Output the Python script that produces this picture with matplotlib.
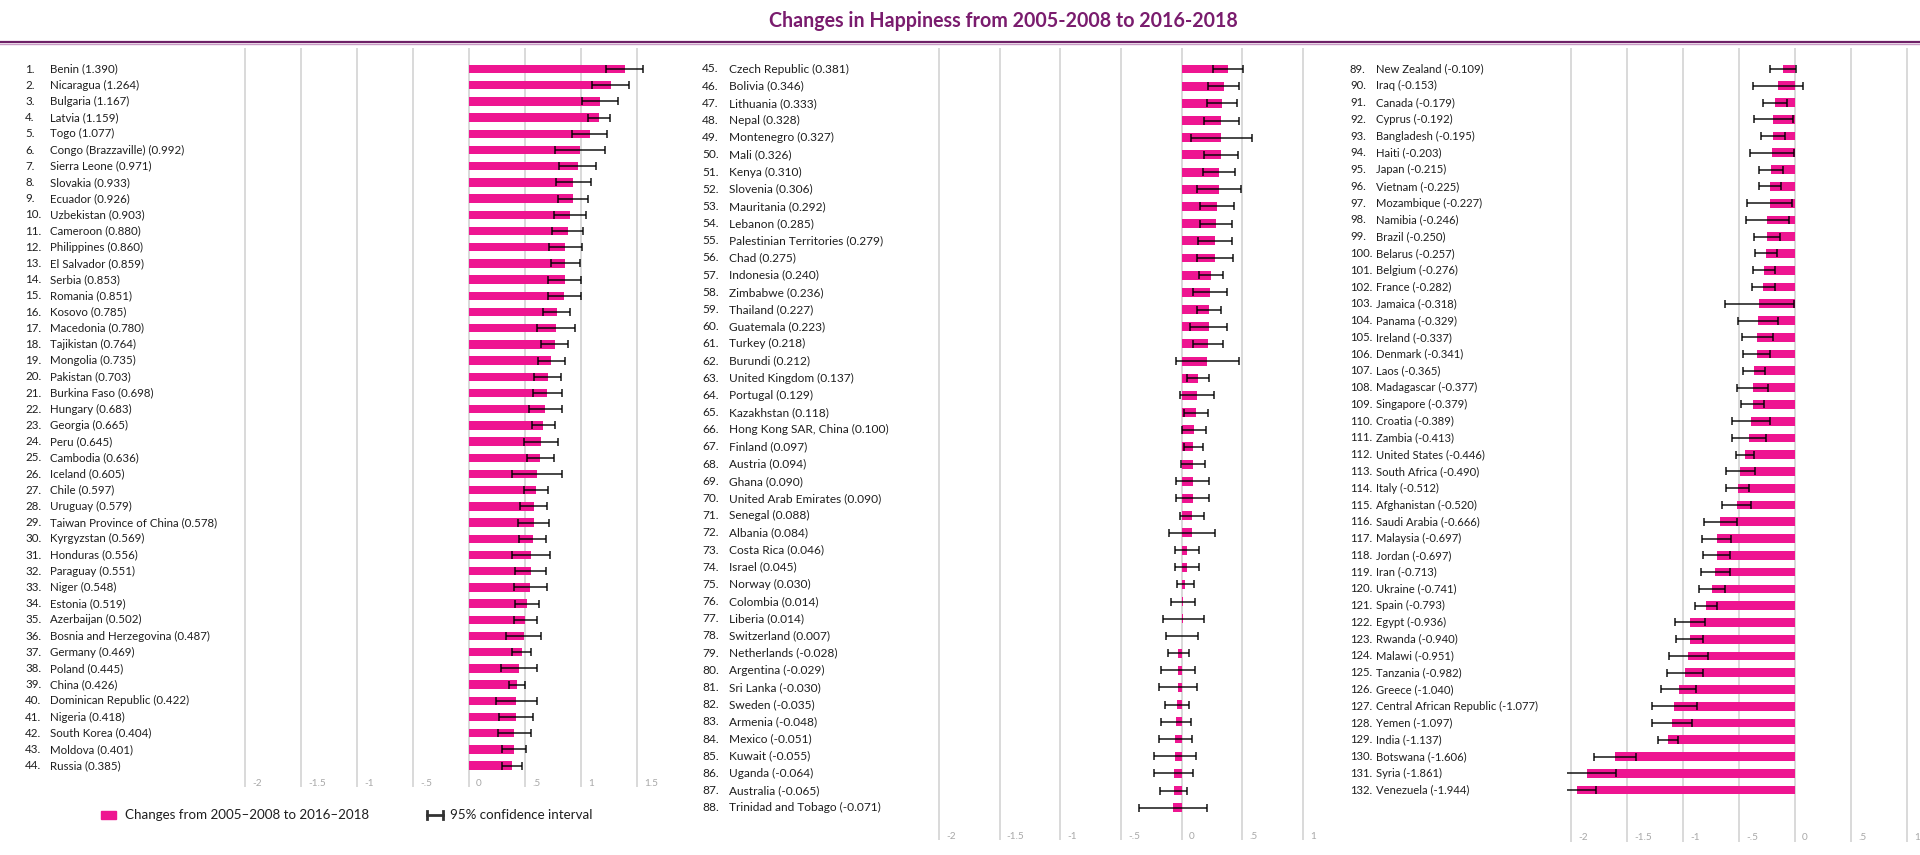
import matplotlib.pyplot as plt
from matplotlib.transforms import blended_transform_factory
from matplotlib.patches import Rectangle
from matplotlib.lines import Line2D

plt.rcParams['font.family'] = ['Lato', 'DejaVu Sans']

title = "Changes in Happiness from 2005-2008 to 2016-2018"

countries = [
    "Benin", "Nicaragua", "Bulgaria", "Latvia", "Togo", "Congo (Brazzaville)",
    "Sierra Leone", "Slovakia", "Ecuador", "Uzbekistan", "Cameroon", "Philippines",
    "El Salvador", "Serbia", "Romania", "Kosovo", "Macedonia", "Tajikistan",
    "Mongolia", "Pakistan", "Burkina Faso", "Hungary", "Georgia", "Peru",
    "Cambodia", "Iceland", "Chile", "Uruguay", "Taiwan Province of China",
    "Kyrgyzstan", "Honduras", "Paraguay", "Niger", "Estonia", "Azerbaijan",
    "Bosnia and Herzegovina", "Germany", "Poland", "China", "Dominican Republic",
    "Nigeria", "South Korea", "Moldova", "Russia",
    "Czech Republic", "Bolivia", "Lithuania", "Nepal", "Montenegro", "Mali",
    "Kenya", "Slovenia", "Mauritania", "Lebanon", "Palestinian Territories",
    "Chad", "Indonesia", "Zimbabwe", "Thailand", "Guatemala", "Turkey", "Burundi",
    "United Kingdom", "Portugal", "Kazakhstan", "Hong Kong SAR, China", "Finland",
    "Austria", "Ghana", "United Arab Emirates", "Senegal", "Albania", "Costa Rica",
    "Israel", "Norway", "Colombia", "Liberia", "Switzerland", "Netherlands",
    "Argentina", "Sri Lanka", "Sweden", "Armenia", "Mexico", "Kuwait", "Uganda",
    "Australia", "Trinidad and Tobago",
    "New Zealand", "Iraq", "Canada", "Cyprus", "Bangladesh", "Haiti", "Japan",
    "Vietnam", "Mozambique", "Namibia", "Brazil", "Belarus", "Belgium", "France",
    "Jamaica", "Panama", "Ireland", "Denmark", "Laos", "Madagascar", "Singapore",
    "Croatia", "Zambia", "United States", "South Africa", "Italy", "Afghanistan",
    "Saudi Arabia", "Malaysia", "Jordan", "Iran", "Ukraine", "Spain", "Egypt",
    "Rwanda", "Malawi", "Tanzania", "Greece", "Central African Republic", "Yemen",
    "India", "Botswana", "Syria", "Venezuela",
]

changes = [
    1.390, 1.264, 1.167, 1.159, 1.077, 0.992, 0.971, 0.933, 0.926, 0.903,
    0.880, 0.860, 0.859, 0.853, 0.851, 0.785, 0.780, 0.764, 0.735, 0.703,
    0.698, 0.683, 0.665, 0.645, 0.636, 0.605, 0.597, 0.579, 0.578, 0.569,
    0.556, 0.551, 0.548, 0.519, 0.502, 0.487, 0.469, 0.445, 0.426, 0.422,
    0.418, 0.404, 0.401, 0.385,
    0.381, 0.346, 0.333, 0.328, 0.327, 0.326, 0.310, 0.306, 0.292, 0.285,
    0.279, 0.275, 0.240, 0.236, 0.227, 0.223, 0.218, 0.212, 0.137, 0.129,
    0.118, 0.100, 0.097, 0.094, 0.090, 0.090, 0.088, 0.084, 0.046, 0.045,
    0.030, 0.014, 0.014, 0.007, -0.028, -0.029, -0.030, -0.035, -0.048, -0.051,
    -0.055, -0.064, -0.065, -0.071,
    -0.109, -0.153, -0.179, -0.192, -0.195, -0.203, -0.215, -0.225, -0.227, -0.246,
    -0.250, -0.257, -0.276, -0.282, -0.318, -0.329, -0.337, -0.341, -0.365, -0.377,
    -0.379, -0.389, -0.413, -0.446, -0.490, -0.512, -0.520, -0.666, -0.697, -0.697,
    -0.713, -0.741, -0.793, -0.936, -0.940, -0.951, -0.982, -1.040, -1.077, -1.097,
    -1.137, -1.606, -1.861, -1.944,
]

# half width of the 95% confidence interval
ci_half = [
    0.166, 0.168, 0.160, 0.100, 0.155, 0.220, 0.163, 0.155, 0.134, 0.143,
    0.136, 0.145, 0.130, 0.150, 0.150, 0.120, 0.170, 0.120, 0.120, 0.120,
    0.130, 0.150, 0.100, 0.150, 0.120, 0.225, 0.110, 0.120, 0.140, 0.120,
    0.170, 0.140, 0.150, 0.104, 0.104, 0.157, 0.087, 0.163, 0.072, 0.184,
    0.151, 0.149, 0.109, 0.090,
    0.122, 0.129, 0.124, 0.144, 0.250, 0.140, 0.134, 0.180, 0.142, 0.132,
    0.140, 0.150, 0.100, 0.140, 0.100, 0.150, 0.120, 0.260, 0.090, 0.140,
    0.100, 0.100, 0.080, 0.100, 0.140, 0.140, 0.100, 0.190, 0.100, 0.100,
    0.070, 0.100, 0.170, 0.132, 0.087, 0.137, 0.153, 0.100, 0.125, 0.135,
    0.173, 0.160, 0.112, 0.280,
    0.115, 0.220, 0.107, 0.176, 0.110, 0.197, 0.108, 0.100, 0.200, 0.190,
    0.120, 0.100, 0.100, 0.100, 0.310, 0.180, 0.140, 0.120, 0.100, 0.140,
    0.100, 0.170, 0.150, 0.080, 0.130, 0.100, 0.130, 0.150, 0.130, 0.120,
    0.130, 0.120, 0.100, 0.135, 0.120, 0.170, 0.160, 0.157, 0.200, 0.176,
    0.089, 0.185, 0.267, 0.168,
]

panel_sizes = [44, 44, 44]
ticks_1 = [-2, -1.5, -1, -0.5, 0, 0.5, 1, 1.5]
tick_labels_1 = ["-2", "-1.5", "-1", "-.5", "0", ".5", "1", "1.5"]
ticks_23 = [-2, -1.5, -1, -0.5, 0, 0.5, 1]
tick_labels_23 = ["-2", "-1.5", "-1", "-.5", "0", ".5", "1"]

legend_bar = "Changes from 2005\u20132008 to 2016\u20132018"
legend_ci = "95% confidence interval"

PINK = "#EE1591"
PURPLE = "#7A1C6E"
GRID = "#d9d9d9"
TICKC = "#a8a8a8"
TEXTC = "#1e1e1e"

W, H = 1920, 855
fig = plt.figure(figsize=(W / 100, H / 100), dpi=100)
fig.patch.set_facecolor("white")

# layout of the three panels, in pixels
panels = [
    dict(x_m2=245, ppu=112.0, row0=69, dy=16.2, top=48, bottom=787, xlim=(-2.04, 1.6),
         num_x=25, name_x=50, fs=8.25, tick_y=783, ticks=ticks_1, tlabels=tick_labels_1),
    dict(x_m2=939, ppu=121.3, row0=69, dy=17.18, top=48, bottom=840, xlim=(-2.04, 1.04),
         num_x=702, name_x=729, fs=8.6, tick_y=836, ticks=ticks_23, tlabels=tick_labels_23),
    dict(x_m2=1571, ppu=112.0, row0=69, dy=16.77, top=48, bottom=842, xlim=(-2.04, 1.04),
         num_x=1350, name_x=1376, fs=8.15, tick_y=837, ticks=ticks_23, tlabels=tick_labels_23),
]

start = 0
for p, n in zip(panels, panel_sizes):
    names = countries[start:start + n]
    vals = changes[start:start + n]
    errs = ci_half[start:start + n]
    ranks = list(range(start + 1, start + n + 1))
    start += n

    left = p["x_m2"] + (p["xlim"][0] + 2) * p["ppu"]
    right = p["x_m2"] + (p["xlim"][1] + 2) * p["ppu"]
    ax = fig.add_axes([left / W, 1 - p["bottom"] / H, (right - left) / W,
                       (p["bottom"] - p["top"]) / H])
    last = p["row0"] + (n - 1) * p["dy"]
    y_top = -(p["row0"] - p["top"]) / p["dy"]
    y_bot = (n - 1) + (p["bottom"] - last) / p["dy"]
    ax.set_xlim(*p["xlim"])
    ax.set_ylim(y_bot, y_top)

    idx = list(range(n))
    ax.barh(idx, vals, height=0.52, color=PINK, zorder=2)
    ax.errorbar(vals, idx, xerr=errs, fmt="none", ecolor="black", alpha=0.72,
                elinewidth=1.4, capsize=2.6, capthick=1.4, zorder=3)

    ax.set_xticks(p["ticks"])
    ax.set_yticks([])
    ax.grid(axis="x", color=GRID, lw=1.4, zorder=0)
    ax.set_axisbelow(True)
    ax.tick_params(length=0, labelbottom=False)
    for s in ax.spines.values():
        s.set_visible(False)

    frac = (p["bottom"] - p["tick_y"]) / (p["bottom"] - p["top"])
    for t, lab in zip(ax.get_xticks(), p["tlabels"]):
        ax.annotate(lab, xy=(t, frac), xycoords=("data", "axes fraction"),
                    xytext=(5, 0), textcoords="offset points", ha="left",
                    va="center", fontsize=7.2, color=TICKC)

    tr = blended_transform_factory(fig.transFigure, ax.transData)
    for i, (r, name, v) in enumerate(zip(ranks, names, vals)):
        ax.text(p["num_x"] / W, i, f"{r}.", transform=tr, ha="left", va="center",
                fontsize=p["fs"], color=TEXTC)
        ax.text(p["name_x"] / W, i, f"{name} ({v:.3f})", transform=tr, ha="left",
                va="center", fontsize=p["fs"], color=TEXTC)

# title and rule
fig.text(1003 / W, 1 - 21 / H, title, ha="center", va="center", fontsize=14.1,
         fontweight="bold", color=PURPLE)
fig.add_artist(Line2D([0, 1], [1 - 42 / H] * 2, transform=fig.transFigure,
                      color="#6e2167", lw=1.6))
fig.add_artist(Line2D([0, 1], [1 - 44 / H] * 2, transform=fig.transFigure,
                      color="#c99ac5", lw=1.0))

# legend
ly = 1 - 815 / H
fig.add_artist(Rectangle((101 / W, ly - 4 / H), 15 / W, 8 / H,
                         transform=fig.transFigure, color=PINK))
fig.text(125 / W, ly, legend_bar, ha="left", va="center", fontsize=9.6, color=TEXTC)
fig.add_artist(Line2D([427 / W, 443 / W], [ly, ly], transform=fig.transFigure,
                      color="#333333", lw=2))
for cx in (427, 443):
    fig.add_artist(Line2D([cx / W, cx / W], [ly - 4 / H, ly + 4 / H],
                          transform=fig.transFigure, color="#333333", lw=2))
fig.text(450 / W, ly, legend_ci, ha="left", va="center", fontsize=9.6, color=TEXTC)

fig.savefig("out.png", dpi=100, facecolor="white")
